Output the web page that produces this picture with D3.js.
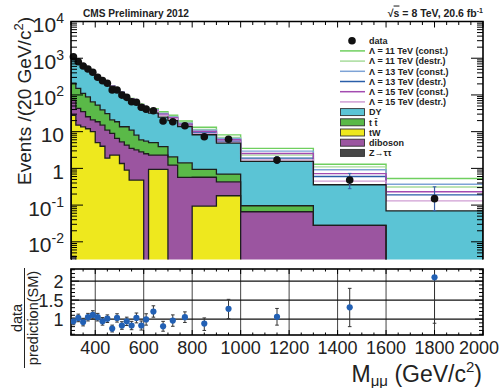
<!DOCTYPE html>
<html>
<head>
<meta charset="utf-8">
<script src="https://cdn.jsdelivr.net/npm/d3@7"></script>
<style>
  body { margin: 0; background: #fff; }
  svg { display: block; font-family: "Liberation Sans", Arial, sans-serif; }
</style>
</head>
<body>
<svg id="chart" width="500" height="388"></svg>
<script>
// bins (GeV), variable width
const binEdges = [300,320,340,360,380,400,420,440,460,480,500,520,540,560,580,600,620,660,700,740,800,900,1000,1300,1600,2000];

// data, events / 20 GeV
const dataVals  = [1100,800,615,510,415,302,245,208,136,136,99,86,65,63,46,41,37,19.5,18.6,14.5,7.3,6.2,1.68,0.48,0.15];
const dataErrLo = [33,28,25,23,20,17,16,14,12,12,10,9,8,8,7,6.4,4.3,3.1,3.0,2.2,1.2,1.1,0.31,0.2,0.08];
const dataErrHi = [33,28,25,23,20,17,16,14,12,12,10,9,8,8,7,6.4,4.3,3.1,3.0,2.2,1.2,1.1,0.39,0.25,0.165];

// SM backgrounds
const dy      = [940,650,540,401,315,242,211,174,149,116,101,78,65,54,46,36.5,27,21.1,17.9,12.4,7.3,4.2,1.45,0.33,0.07];
const ttbar   = [138,107,75,63.5,44,34.4,24,20,12,12,8.3,9.3,7.5,4.8,3.2,3.0,2.7,1.6,0.84,0.85,0.37,0.27,0.03,0,0];
const tW      = [28,15,13.5,12,10,5,4,1.9,2.3,2.3,1.36,0.9,0.48,0.48,0.48,0,0.94,0.94,0,0,0.094,0.18,0,0,0];
const diboson = [44,28,21.5,13.5,11,13.6,11,9.1,6.7,4.3,3.94,3.4,3.02,2.72,2.32,2.5,1.36,1.36,1.23,0.57,0.48,0.25,0.066,0.028,0];
const ztautau = [0.004,0.002,0,0,0,0,0,0,0,0,0,0,0,0,0,0,0,0,0,0,0,0,0,0,0];

// SM + contact interaction signal
const sig11c = [1160,810,660,498,388,302,257,211,176,140,120,97,80,66,56,46,42,35,28,19.5,13.2,8.2,3.5,1.30,0.53];
const sig11d = [1155,806,656,495,385,300,255,209,174,138,118,95,79,65,55,45,40,33,26,17.5,11.5,7.0,2.3,1.10,0.31];
const sig13c = [1158,808,658,496,386,300,255,209,174,138,118,95,79,64,54,44,39,31.5,25,17,11,6.5,2.95,0.92,0.37];
const sig13d = [1152,803,653,492,382,297,252,207,172,136,116,93,77,63,53,43,37,29,23,15,9.5,5.5,1.9,0.60,0.19];
const sig15c = [1154,804,654,493,383,298,253,208,172,137,117,94,78,63,53,43,38,30,24,16,10.2,6.0,2.55,0.72,0.23];
const sig15d = [1151,802,652,491,381,296,251,206,171,136,116,93,77,62,52,42,36.5,28,22.5,14.5,9.0,5.2,1.7,0.45,0.13];

// ratio panel
const ratioVals  = [0.94,1.03,0.92,1.05,1.11,1.05,0.94,1.01,0.75,1.03,0.83,0.94,0.83,1.03,0.83,0.99,1.20,0.81,0.96,1.05,0.88,1.27,1.06,1.31,2.10];
const ratioErrLo = [0.09,0.1,0.1,0.1,0.11,0.1,0.1,0.1,0.09,0.11,0.1,0.11,0.11,0.13,0.12,0.15,0.15,0.13,0.15,0.14,0.18,0.26,0.22,0.51,1.21];
const ratioErrHi = [0.09,0.1,0.1,0.1,0.11,0.1,0.1,0.1,0.09,0.11,0.1,0.11,0.11,0.13,0.12,0.15,0.15,0.13,0.15,0.14,0.15,0.25,0.22,0.50,2.0];

const xTickVals = [400,600,800,1000,1200,1400,1600,1800,2000];
const yTickExps = [4,3,2,1,0,-1,-2];
const ratioTickVals = [1,1.5,2];

const svg = d3.select("#chart");
const x = d3.scaleLinear().domain([300,2000]).range([71,483]);
const yMin = 0.0033;
const y = d3.scaleLog().domain([yMin,1e4]).range([259.5,21.5]);
const yr = d3.scaleLinear().domain([0.58,2.32]).range([335,269]);
const floorV = yMin * 0.5;
const cl = v => Math.max(v, floorV);
const centers = binEdges.slice(0,-1).map((e,i) => (e + binEdges[i+1]) / 2);

svg.append("clipPath").attr("id","clipTop")
  .append("rect").attr("x",71).attr("y",21.5).attr("width",412).attr("height",238);

const topG = svg.append("g").attr("clip-path","url(#clipTop)");

// stacked backgrounds
const rows = dy.map((_, i) => ({ztt: ztautau[i], tw: tW[i], vv: diboson[i], tt: ttbar[i], dy: dy[i]}));
const keys = ["ztt","tw","vv","tt","dy"];
const fills = {ztt:"#474747", tw:"#eee81e", vv:"#9b55a0", tt:"#5ab948", dy:"#5bc4d5"};
const layers = d3.stack().keys(keys)(rows);

function stepPts(lo, hi) {
  const pts = [];
  hi.forEach((v,i) => {
    pts.push({x: binEdges[i], lo: lo[i], hi: v});
    pts.push({x: binEdges[i+1], lo: lo[i], hi: v});
  });
  return pts;
}

const area = d3.area().x(d => x(d.x)).y0(d => y(cl(d.lo))).y1(d => y(cl(d.hi)));
layers.forEach(L => {
  const lo = L.map(d => d[0]), hi = L.map(d => d[1]);
  topG.append("path").attr("d", area(stepPts(lo, hi))).attr("fill", fills[L.key]);
});

// signal lines
const sigSeries = [
  {label:"Λ = 11 TeV (const.)", color:"#6fcf5f", vals:sig11c},
  {label:"Λ = 11 TeV (destr.)", color:"#a8dc9c", vals:sig11d},
  {label:"Λ = 13 TeV (const.)", color:"#7ea3d6", vals:sig13c},
  {label:"Λ = 13 TeV (destr.)", color:"#2a5ea8", vals:sig13d},
  {label:"Λ = 15 TeV (const.)", color:"#a34bb0", vals:sig15c},
  {label:"Λ = 15 TeV (destr.)", color:"#d09ed4", vals:sig15d}
];
const line = d3.line().x(d => x(d.x)).y(d => y(cl(d.hi)));
sigSeries.forEach(s => {
  topG.append("path").attr("d", line(stepPts(s.vals, s.vals)))
    .attr("fill","none").attr("stroke", s.color).attr("stroke-width",1.4);
});

// outlines of cumulative histograms
layers.forEach(L => {
  const hi = L.map(d => d[1]);
  const pts = [{x: binEdges[0], hi: floorV}].concat(stepPts(hi, hi), [{x: binEdges[binEdges.length-1], hi: floorV}]);
  topG.append("path").attr("d", line(pts)).attr("fill","none")
    .attr("stroke","#1e1e1e").attr("stroke-width",1.3);
});

// data
const dg = svg.append("g");
dataVals.forEach((v,i) => {
  const cx = x(centers[i]);
  dg.append("line").attr("x1",cx).attr("x2",cx)
    .attr("y1", y(v + dataErrHi[i])).attr("y2", y(Math.max(v - dataErrLo[i], floorV)))
    .attr("stroke","#3a5ea6").attr("stroke-width",1.2);
  [v + dataErrHi[i], v - dataErrLo[i]].forEach(e => {
    dg.append("line").attr("x1",cx-1.8).attr("x2",cx+1.8).attr("y1",y(e)).attr("y2",y(e))
      .attr("stroke","#3a5ea6").attr("stroke-width",1);
  });
});
dg.selectAll("circle").data(dataVals).join("circle")
  .attr("cx",(d,i) => x(centers[i])).attr("cy", d => y(d)).attr("r",3.8).attr("fill","#111");

// top frame + ticks
const ax = svg.append("g").attr("stroke","#000").attr("fill","none");
ax.append("path").attr("d",`M71,259.5V21.5H483V259.5`).attr("stroke-width",1.6);
const minorX = d3.range(300,2001,50);
minorX.forEach(v => {
  const len = v % 200 === 0 ? 6 : 3.5;
  ax.append("line").attr("x1",x(v)).attr("x2",x(v)).attr("y1",21.5).attr("y2",21.5+len);
});
const logTicks = [];
for (let k = -3; k <= 3; k++) for (let m = 1; m <= 9; m++) {
  const v = m * Math.pow(10,k);
  if (v >= yMin && v <= 1e4) logTicks.push({v, major: m === 1});
}
logTicks.push({v:1e4, major:true});
logTicks.forEach(t => {
  const len = t.major ? 12 : 6;
  ax.append("line").attr("x1",71).attr("x2",71+len).attr("y1",y(t.v)).attr("y2",y(t.v));
  ax.append("line").attr("x1",483).attr("x2",483-len).attr("y1",y(t.v)).attr("y2",y(t.v));
});

// top y labels
yTickExps.forEach(e => {
  const t = svg.append("text").attr("x",64).attr("y", y(Math.pow(10,e)) + 10.5)
    .attr("text-anchor","end").attr("font-size",21).attr("fill","#222");
  if (e === 0) t.text("1");
  else if (e === 1) t.text("10");
  else {
    t.append("tspan").text("10");
    t.append("tspan").attr("font-size",14).attr("dy",-9).text(e);
  }
});

// y title
const yt = svg.append("text").attr("transform","translate(30.5,185) rotate(-90)")
  .attr("font-size",19).attr("fill","#222").attr("textLength",168).attr("lengthAdjust","spacingAndGlyphs");
yt.append("tspan").text("Events /(20 GeV/c");
yt.append("tspan").attr("font-size",13).attr("dy",-8).text("2");
yt.append("tspan").attr("dy",8).text(")");

// header
svg.append("text").attr("x",83).attr("y",16.5).attr("font-size",11).attr("font-weight","bold")
  .attr("fill","#222").attr("textLength",106).attr("lengthAdjust","spacingAndGlyphs").text("CMS Preliminary 2012");
const hd = svg.append("text").attr("x",483).attr("y",16.5).attr("text-anchor","end")
  .attr("font-size",10.5).attr("font-weight","bold").attr("fill","#222");
hd.append("tspan").text("√");
hd.append("tspan").attr("text-decoration","overline").text("s");
hd.append("tspan").text(" = 8 TeV, 20.6 fb");
hd.append("tspan").attr("font-size",7).attr("dy",-4).text("-1");

// legend
const lg = svg.append("g").attr("font-size",9).attr("font-weight","bold").attr("fill","#222");
const rowY = i => 40.7 + 10.2 * i;
lg.append("circle").attr("cx",352).attr("cy",rowY(0)).attr("r",3.8).attr("fill","#111");
lg.append("text").attr("x",369).attr("y",rowY(0)+3.3).text("data");
sigSeries.forEach((s,i) => {
  lg.append("line").attr("x1",340).attr("x2",365).attr("y1",rowY(i+1)).attr("y2",rowY(i+1))
    .attr("stroke",s.color).attr("stroke-width",1.5);
  lg.append("text").attr("x",369).attr("y",rowY(i+1)+3.3).text(s.label);
});
const boxes = [["DY",fills.dy],["t t\u0304",fills.tt],["tW",fills.tw],["diboson",fills.vv],["Z\u2192\u03c4\u03c4",fills.ztt]];
boxes.forEach((b,i) => {
  const yy = rowY(i+7);
  lg.append("rect").attr("x",340.5).attr("y",yy-3.5).attr("width",24).attr("height",7)
    .attr("fill",b[1]).attr("stroke","#333").attr("stroke-width",0.9);
  lg.append("text").attr("x",369).attr("y",yy+3.3).text(b[0]);
});

// ratio panel
const rp = svg.append("g");
xTickVals.slice(0,-1).forEach(v => {
  rp.append("line").attr("x1",x(v)).attr("x2",x(v)).attr("y1",269).attr("y2",335)
    .attr("stroke","#444").attr("stroke-width",1);
});
ratioTickVals.forEach(v => {
  rp.append("line").attr("x1",71).attr("x2",483).attr("y1",yr(v)).attr("y2",yr(v))
    .attr("stroke","#111").attr("stroke-width",1.2);
});
const ra = rp.append("g").attr("stroke","#000");
ra.append("rect").attr("x",71).attr("y",269).attr("width",412).attr("height",66)
  .attr("fill","none").attr("stroke-width",1.6);
minorX.forEach(v => {
  const len = v % 200 === 0 ? 5 : 2.5;
  ra.append("line").attr("x1",x(v)).attr("x2",x(v)).attr("y1",269).attr("y2",269+len);
  ra.append("line").attr("x1",x(v)).attr("x2",x(v)).attr("y1",335).attr("y2",335-len);
});
d3.range(0.6,2.31,0.1).forEach(v => {
  const major = Math.abs(v*2 - Math.round(v*2)) < 1e-6;
  const len = major ? 8 : 4;
  ra.append("line").attr("x1",71).attr("x2",71+len).attr("y1",yr(v)).attr("y2",yr(v));
  ra.append("line").attr("x1",483).attr("x2",483-len).attr("y1",yr(v)).attr("y2",yr(v));
});

svg.append("clipPath").attr("id","clipRatio")
  .append("rect").attr("x",71).attr("y",269).attr("width",412).attr("height",66);
const rd = svg.append("g").attr("clip-path","url(#clipRatio)");
ratioVals.forEach((v,i) => {
  const cx = x(centers[i]);
  const hi = v + ratioErrHi[i], lo = v - ratioErrLo[i];
  rd.append("line").attr("x1",cx).attr("x2",cx).attr("y1",yr(hi)).attr("y2",yr(lo))
    .attr("stroke","#333").attr("stroke-width",1);
  [hi, lo].forEach(e => rd.append("line").attr("x1",cx-1.8).attr("x2",cx+1.8)
    .attr("y1",yr(e)).attr("y2",yr(e)).attr("stroke","#333").attr("stroke-width",1));
});
rd.selectAll("circle").data(ratioVals).join("circle")
  .attr("cx",(d,i) => x(centers[i])).attr("cy", d => yr(d)).attr("r",3.1).attr("fill","#2260b4");

// ratio labels
ratioTickVals.forEach(v => {
  svg.append("text").attr("x",63.5).attr("y",yr(v)+6.5).attr("text-anchor","end")
    .attr("font-size",18).attr("fill","#222").text(v);
});
xTickVals.forEach(v => {
  const last = v === 2000;
  svg.append("text").attr("x", last ? 499 : x(v)).attr("y",354)
    .attr("text-anchor", last ? "end" : "middle")
    .attr("font-size",18).attr("fill","#222").text(v);
});

// ratio y title (fraction)
svg.append("text").attr("transform","translate(21.5,318) rotate(-90)").attr("text-anchor","middle")
  .attr("font-size",14.5).attr("fill","#222").text("data");
svg.append("line").attr("x1",24.5).attr("x2",24.5).attr("y1",268).attr("y2",368)
  .attr("stroke","#222").attr("stroke-width",1);
svg.append("text").attr("transform","translate(37.5,318) rotate(-90)").attr("text-anchor","middle")
  .attr("font-size",14.5).attr("fill","#222").text("prediction(SM)");

// x title
const xt = svg.append("text").attr("x",482).attr("y",382).attr("text-anchor","end")
  .attr("font-size",23).attr("fill","#222");
xt.append("tspan").text("M");
xt.append("tspan").attr("font-size",15).attr("dy",4).text("μμ");
xt.append("tspan").attr("dy",-4).text(" (GeV/c");
xt.append("tspan").attr("font-size",15).attr("dy",-10).text("2");
xt.append("tspan").attr("dy",10).text(")");
</script>
</body>
</html>
